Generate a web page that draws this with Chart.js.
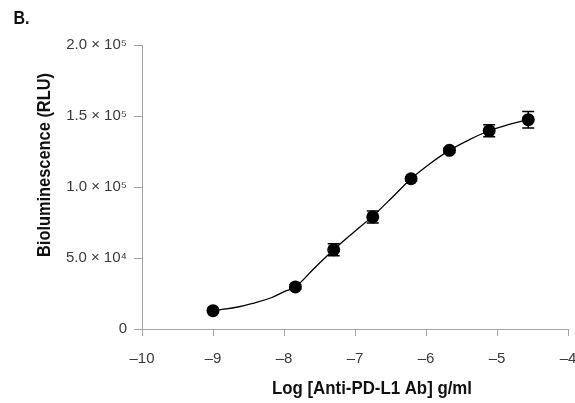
<!DOCTYPE html>
<html>
<head>
<meta charset="utf-8">
<title>Bioluminescence vs Log [Anti-PD-L1 Ab]</title>
<script src="https://cdn.jsdelivr.net/npm/chart.js@4.4.1/dist/chart.umd.min.js"></script>
<style>
    html, body { margin: 0; padding: 0; background: #ffffff; }
    #wrap { width: 575px; height: 403px; }
</style>
</head>
<body>
<div id="wrap"><canvas id="doseChart" width="575" height="403"></canvas></div>
<script>
const logConc = [-9, -7.84, -7.30, -6.75, -6.21, -5.67, -5.11, -4.56];
const rlu = [12900, 29600, 55800, 78900, 105800, 125800, 139600, 147400];
const rluErr = [600, 1500, 4200, 4200, 1500, 1500, 4200, 5800];

// Fitted curve
const fitX = [-9, -8.65, -8.42, -8.18, -7.99, -7.84, -7.57, -7.30, -7.03, -6.75,
    -6.47, -6.21, -5.94, -5.67, -5.39, -5.11, -4.84, -4.56];
const fitY = [12900, 15500, 18300, 22000, 26500, 29600, 43000, 55800, 67600, 79500,
    93000, 105800, 116600, 125800, 133300, 139600, 143900, 147400];

const xTicks = [-10, -9, -8, -7, -6, -5, -4];
const yTicks = [0, 50000, 100000, 150000, 200000];

const panelLabel = 'B.';
const xTitle = 'Log [Anti-PD-L1 Ab] g/ml';
const yTitle = 'Bioluminescence (RLU)';

const TICK_FONT = { family: '"Liberation Sans", Arial, sans-serif', size: 15 };
const TITLE_FONT = 'bold 19px "Liberation Sans", Arial, sans-serif';
const AXIS_GREY = '#a3a3a3';

const SUPERSCRIPT = { '0': '\u2070', '1': '\u00b9', '2': '\u00b2', '3': '\u00b3', '4': '\u2074',
    '5': '\u2075', '6': '\u2076', '7': '\u2077', '8': '\u2078', '9': '\u2079' };

function sciLabel(value) {
    if (value === 0) return '0';
    const exp = Math.floor(Math.log10(value));
    const mant = (value / Math.pow(10, exp)).toFixed(1);
    const sup = String(exp).split('').map(d => SUPERSCRIPT[d]).join('');
    return `${mant} \u00d7 10${sup}`;
}

// condensed look: squeeze text to the width it has in the figure
function condensedText(ctx, text, cx, cy, width, angle) {
    ctx.save();
    ctx.translate(cx, cy);
    ctx.rotate(angle || 0);
    const w = ctx.measureText(text).width;
    ctx.scale(width / w, 1);
    ctx.fillText(text, 0, 0);
    ctx.restore();
}

// error bars, drawn under the markers
const errorBars = {
    id: 'errorBars',
    beforeDatasetsDraw(chart) {
        const { ctx, scales: { x, y } } = chart;
        ctx.save();
        ctx.strokeStyle = '#000';
        ctx.lineWidth = 1.5;
        logConc.forEach((lc, i) => {
            const px = x.getPixelForValue(lc);
            const top = y.getPixelForValue(rlu[i] + rluErr[i]);
            const bot = y.getPixelForValue(rlu[i] - rluErr[i]);
            ctx.beginPath();
            ctx.moveTo(px, top); ctx.lineTo(px, bot);
            ctx.moveTo(px - 6, top); ctx.lineTo(px + 6, top);
            ctx.moveTo(px - 6, bot); ctx.lineTo(px + 6, bot);
            ctx.stroke();
        });
        ctx.restore();
    }
};

// panel letter and axis titles
const labels = {
    id: 'labels',
    afterDraw(chart) {
        const { ctx } = chart;
        ctx.save();
        ctx.fillStyle = '#111';
        ctx.font = TITLE_FONT;
        ctx.textAlign = 'center';
        ctx.textBaseline = 'alphabetic';
        condensedText(ctx, panelLabel, 21.5, 24, 16);
        condensedText(ctx, xTitle, 372, 394, 200);
        condensedText(ctx, yTitle, 50, 165, 184, -Math.PI / 2);
        ctx.restore();
    }
};

new Chart(document.getElementById('doseChart').getContext('2d'), {
    type: 'scatter',
    data: {
        datasets: [{
            label: 'RLU',
            data: logConc.map((lc, i) => ({ x: lc, y: rlu[i] })),
            showLine: false,
            backgroundColor: '#000',
            borderColor: '#000',
            pointRadius: 6.5,
            pointHoverRadius: 6.5,
            pointBorderWidth: 0,
            order: 0
        }, {
            label: 'Fit',
            data: fitX.map((fx, i) => ({ x: fx, y: fitY[i] })),
            showLine: true,
            tension: 0.4,
            borderColor: '#000',
            borderWidth: 1.3,
            pointRadius: 0,
            pointHoverRadius: 0,
            order: 1
        }]
    },
    options: {
        responsive: false,
        animation: false,
        layout: { padding: { top: 45, right: 7, left: 0, bottom: 0 } },
        plugins: {
            legend: { display: false },
            tooltip: { enabled: false }
        },
        scales: {
            x: {
                type: 'linear',
                min: -10,
                max: -4,
                afterFit: (scale) => {
                    scale.height = 74;
                    scale.paddingLeft = 0;
                    scale.paddingRight = 0;
                },
                afterBuildTicks: (scale) => { scale.ticks = xTicks.map(v => ({ value: v })); },
                border: { display: true, color: AXIS_GREY, width: 1 },
                grid: { drawOnChartArea: false, drawTicks: true, tickLength: 7, color: AXIS_GREY },
                ticks: {
                    font: TICK_FONT,
                    color: '#3a3a3a',
                    padding: 14,
                    maxRotation: 0,
                    callback: (v) => (v < 0 ? '\u2013' + Math.abs(v) : String(v))
                }
            },
            y: {
                type: 'linear',
                min: 0,
                max: 200000,
                afterFit: (scale) => { scale.width = 142; },
                afterBuildTicks: (scale) => { scale.ticks = yTicks.map(v => ({ value: v })); },
                border: { display: true, color: AXIS_GREY, width: 1 },
                grid: { drawOnChartArea: false, drawTicks: true, tickLength: 8, color: AXIS_GREY },
                ticks: {
                    font: TICK_FONT,
                    color: '#3a3a3a',
                    padding: 7,
                    callback: (v) => sciLabel(v)
                }
            }
        }
    },
    plugins: [errorBars, labels]
});
</script>
</body>
</html>
